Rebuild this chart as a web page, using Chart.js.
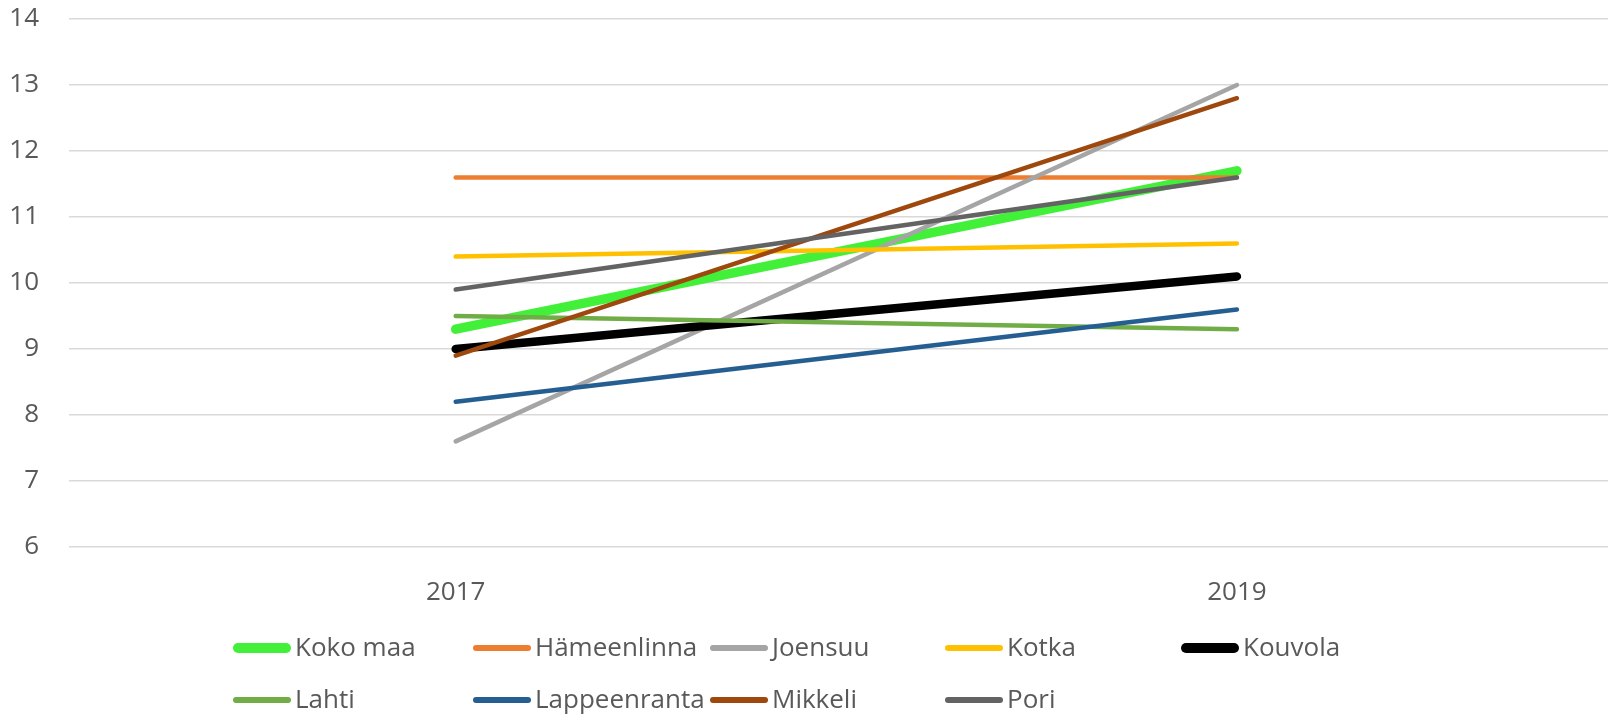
<!DOCTYPE html>
<html lang="fi">

<head>
    <meta charset="UTF-8">
    <title>Kaupunkivertailu 2017–2019</title>
    <script src="https://cdn.jsdelivr.net/npm/chart.js"></script>
    <style>
        html, body { margin: 0; padding: 0; background: #fff; }
        #wrap { width: 1608px; height: 717px; }
    </style>
</head>

<body>
    <div id="wrap">
        <canvas id="grafiikka" width="1608" height="717"></canvas>
    </div>
    <script>
        // --- Data ---
        const vuodet = [2017, 2019];
        const yTicks = [6, 7, 8, 9, 10, 11, 12, 13, 14];
        const sarjat = ['Koko maa', 'Hämeenlinna', 'Joensuu', 'Kotka', 'Kouvola', 'Lahti', 'Lappeenranta', 'Mikkeli', 'Pori'];
        const kokoMaa = [9.3, 11.7];
        const hameenlinna = [11.6, 11.6];
        const joensuu = [7.6, 13.0];
        const kotka = [10.4, 10.6];
        const kouvola = [9.0, 10.1];
        const lahti = [9.5, 9.3];
        const lappeenranta = [8.2, 9.6];
        const mikkeli = [8.9, 12.8];
        const pori = [9.9, 11.6];

        const arvot = [kokoMaa, hameenlinna, joensuu, kotka, kouvola, lahti, lappeenranta, mikkeli, pori];
        const varit = ['#42f03a', '#ed7d31', '#a5a5a5', '#ffc000', '#000000', '#70ad47', '#255e91', '#9e480e', '#636363'];
        const paksuus = [9.5, 4.5, 4.5, 4.5, 8.5, 4.5, 4.5, 4.5, 4.5];

        const fontti = '"Open Sans", "Noto Sans", sans-serif';
        const tekstiVari = '#595959';

        const datasets = sarjat.map((nimi, i) => ({
            label: nimi,
            data: vuodet.map((v, j) => ({ x: v, y: arvot[i][j] })),
            borderColor: varit[i],
            backgroundColor: varit[i],
            borderWidth: paksuus[i],
            borderCapStyle: 'round',
            pointRadius: 0,
            pointHoverRadius: 0,
            order: sarjat.length - i,
            tension: 0
        }));

        // --- Selite (kaksi riviä, kiinteät sarakkeet) ---
        const seliteRivit = [[0, 1, 2, 3, 4], [5, 6, 7, 8]];
        const seliteX = [233, 473, 710, 945, 1181];
        const seliteY = [648, 700];

        const selitePlugin = {
            id: 'seliteRuudukko',
            afterDraw(chart) {
                const ctx = chart.ctx;
                ctx.save();
                ctx.font = '26px ' + fontti;
                ctx.textBaseline = 'middle';
                ctx.fillStyle = tekstiVari;
                seliteRivit.forEach((rivi, r) => {
                    rivi.forEach((idx, c) => {
                        const ds = chart.data.datasets[idx];
                        const x0 = seliteX[c];
                        const y = seliteY[r];
                        const lw = idx === 0 || idx === 4 ? 10 : 6;
                        ctx.beginPath();
                        ctx.lineCap = 'round';
                        ctx.lineWidth = lw;
                        ctx.strokeStyle = ds.borderColor;
                        ctx.moveTo(x0 + lw / 2, y);
                        ctx.lineTo(x0 + 58 - lw / 2, y);
                        ctx.stroke();
                        ctx.fillText(ds.label, x0 + 62, y + 1);
                    });
                });
                ctx.restore();
            }
        };

        new Chart(document.getElementById('grafiikka').getContext('2d'), {
            type: 'line',
            data: { datasets: datasets },
            options: {
                responsive: false,
                devicePixelRatio: 1,
                animation: false,
                layout: { padding: { top: 19, bottom: 97, left: 0, right: 0 } },
                plugins: {
                    legend: { display: false },
                    tooltip: { enabled: false }
                },
                scales: {
                    x: {
                        type: 'linear',
                        min: 2016.01,
                        max: 2019.95,
                        grid: { display: false },
                        border: { display: false },
                        afterBuildTicks: s => { s.ticks = vuodet.map(v => ({ value: v })); },
                        afterFit: s => {
                            s.height = 73;
                            s.paddingLeft = 0;
                            s.paddingRight = 0;
                        },
                        ticks: {
                            padding: 22,
                            color: tekstiVari,
                            font: { family: fontti, size: 26 },
                            callback: v => String(v),
                            maxRotation: 0
                        }
                    },
                    y: {
                        min: 6,
                        max: 14,
                        afterBuildTicks: s => { s.ticks = yTicks.map(v => ({ value: v })); },
                        afterFit: s => {
                            s.width = 69;
                            s.paddingTop = 0;
                            s.paddingBottom = 0;
                        },
                        grid: { color: '#d9d9d9', lineWidth: 1.6, drawTicks: false },
                        border: { display: false },
                        ticks: {
                            padding: 30,
                            color: tekstiVari,
                            font: { family: fontti, size: 26 }
                        }
                    }
                }
            },
            plugins: [selitePlugin]
        });
    </script>
</body>

</html>
